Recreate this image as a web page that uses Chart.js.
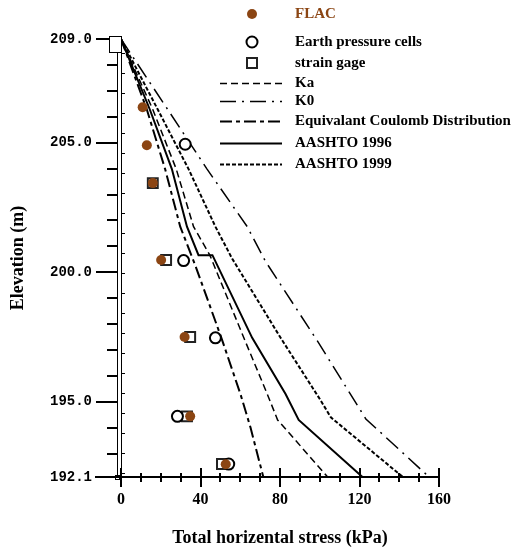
<!DOCTYPE html>
<html>
<head>
<meta charset="utf-8">
<script src="https://cdn.jsdelivr.net/npm/chart.js@4.4.1/dist/chart.umd.min.js"></script>
<style>
  html, body { margin: 0; padding: 0; background: #fff; }
  #wrap { width: 515px; height: 555px; }
</style>
</head>
<body>
<div id="wrap"><canvas id="wallChart" width="515" height="555"></canvas></div>
<script>
// measured values: stress (kPa) vs elevation (m)
const flacStress = [10.9, 13.0, 16.0, 20.2, 32.0, 34.8, 52.7];
const flacElev   = [206.37, 204.9, 203.44, 200.47, 197.5, 194.44, 192.59];
const cellStress = [32.3, 31.5, 47.5, 28.4, 54.2];
const cellElev   = [204.94, 200.45, 197.47, 194.44, 192.6];
const gageStress = [16.0, 22.7, 34.8, 33.2, 50.8];
const gageElev   = [203.44, 200.47, 197.5, 194.44, 192.6];

// design distributions
const kaStress = [0, 16.0, 27.8, 36.5, 44.7, 61.8, 73.6, 78.8, 104];
const kaElev   = [209, 206.28, 203.98, 201.76, 200.66, 197.47, 195.3, 194.3, 192.1];
const k0Stress = [0, 23.5, 43.3, 63.5, 72.7, 98.8, 123.2, 155];
const k0Elev   = [209, 206.28, 203.98, 201.76, 200.42, 197.35, 194.34, 192.1];
const coulombStress = [0, 13.0, 22.2, 29.8, 37.4, 50.5, 60.1, 65.2, 71.6];
const coulombElev   = [209, 206.28, 203.98, 201.76, 200.26, 197.47, 195.3, 194.0, 192.1];
const a96Stress = [0, 14.5, 25.6, 33.2, 39.0, 46.0, 66.0, 82.8, 89.4, 121.5];
const a96Elev   = [209, 206.28, 203.98, 201.76, 200.66, 200.66, 197.47, 195.3, 194.3, 192.1];
const a99Stress = [0, 18.5, 34.0, 47.5, 55.9, 80.3, 100.5, 105.6, 141.8];
const a99Elev   = [209, 206.28, 203.98, 201.76, 200.53, 197.47, 195.05, 194.4, 192.1];

const xTickLabels = [0, 40, 80, 120, 160];
const yTickLabels = [192.1, 195, 200, 205, 209];

const brown = '#8b4513';
const toPts = (xs, ys) => xs.map((v, i) => ({ x: v, y: ys[i] }));

function lineSet(label, xs, ys, dash, width) {
  return {
    label: label,
    data: toPts(xs, ys),
    showLine: true,
    borderColor: '#000',
    borderWidth: width,
    borderDash: dash,
    pointRadius: 0,
    fill: false,
    tension: 0
  };
}

const datasets = [
  { label: 'FLAC', data: toPts(flacStress, flacElev), pointStyle: 'circle', pointRadius: 5,
    backgroundColor: brown, borderColor: brown, borderWidth: 0, textColor: brown },
  { label: 'Earth pressure cells', data: toPts(cellStress, cellElev), pointStyle: 'circle', pointRadius: 5.5,
    backgroundColor: '#fff', borderColor: '#000', borderWidth: 2 },
  { label: 'strain gage', data: toPts(gageStress, gageElev), pointStyle: 'rect', pointRadius: 7,
    backgroundColor: '#fff', borderColor: '#222', borderWidth: 2 },
  lineSet('Ka', kaStress, kaElev, [7, 4], 1.5),
  lineSet('K0', k0Stress, k0Elev, [16, 6, 2, 6], 1.5),
  lineSet('Equivalant Coulomb Distribution', coulombStress, coulombElev, [12, 4, 4, 4], 2),
  lineSet('AASHTO 1996', a96Stress, a96Elev, [], 2),
  lineSet('AASHTO 1999', a99Stress, a99Elev, [4, 2], 2)
];

// wall, axis ticks and the legend are drawn by hand
const decorPlugin = {
  id: 'decor',
  beforeDatasetsDraw(chart) {
    const { ctx, scales: { x, y } } = chart;
    const x0 = x.getPixelForValue(0);
    const top = y.getPixelForValue(209);
    const bot = y.getPixelForValue(192.1);
    ctx.save();
    ctx.strokeStyle = '#000';
    ctx.lineWidth = 1;
    // wall face ticks on the inside
    for (let py = top + 14; py < bot; py += 20) {
      ctx.beginPath();
      ctx.moveTo(x0 + 0.5, Math.round(py) + 0.5);
      ctx.lineTo(x0 + 4, Math.round(py) + 0.5);
      ctx.stroke();
    }
    ctx.restore();
  },
  afterDraw(chart) {
    const { ctx, scales: { x, y } } = chart;
    const x0 = Math.round(x.getPixelForValue(0));
    const top = Math.round(y.getPixelForValue(209));
    const bot = Math.round(y.getPixelForValue(192.1));
    ctx.save();
    ctx.strokeStyle = '#000';
    ctx.lineCap = 'butt';

    // y ticks (outside the wall)
    ctx.lineWidth = 2;
    y.ticks.forEach(t => {
      const py = Math.round(y.getPixelForValue(t.value));
      const major = yTickLabels.includes(t.value);
      ctx.beginPath();
      ctx.moveTo(major ? x0 - 25 : x0 - 14, py);
      ctx.lineTo(x0 - 4, py);
      ctx.stroke();
    });

    // wall stem + cap
    ctx.lineWidth = 1;
    ctx.fillStyle = '#fff';
    ctx.fillRect(x0 - 11.5, top - 2.5, 12, 16);
    ctx.strokeRect(x0 - 11.5, top - 2.5, 12, 16);
    ctx.beginPath();
    ctx.moveTo(x0 - 3.5, top + 13.5); ctx.lineTo(x0 - 3.5, bot);
    ctx.moveTo(x0 + 0.5, top + 13.5); ctx.lineTo(x0 + 0.5, bot);
    ctx.stroke();
    ctx.strokeRect(x0 - 5.5, bot - 1.5, 4, 4);

    // x axis line and ticks
    const xEnd = x.getPixelForValue(160);
    ctx.lineWidth = 2;
    ctx.beginPath();
    ctx.moveTo(x0 - 26, bot);
    ctx.lineTo(xEnd + 1, bot);
    ctx.stroke();
    x.ticks.forEach(t => {
      const px = Math.round(x.getPixelForValue(t.value));
      const major = xTickLabels.includes(t.value);
      ctx.beginPath();
      ctx.moveTo(px, major ? bot - 9 : bot - 4);
      ctx.lineTo(px, major ? bot + 10 : bot + 5);
      ctx.stroke();
    });

    // legend
    const lx1 = 220, lx2 = 282, tx = 295;
    const rows = [14, 42, 63, 83, 101, 121, 143, 164];
    ctx.font = 'bold 15px "Liberation Serif", serif';
    ctx.textBaseline = 'middle';
    ctx.textAlign = 'left';
    chart.data.datasets.forEach((ds, i) => {
      const ry = rows[i];
      if (ds.showLine) {
        ctx.save();
        ctx.strokeStyle = ds.borderColor;
        ctx.lineWidth = ds.borderWidth;
        ctx.setLineDash(ds.borderDash);
        ctx.beginPath();
        ctx.moveTo(lx1, ry + 0.5);
        ctx.lineTo(lx2, ry + 0.5);
        ctx.stroke();
        ctx.restore();
      } else {
        ctx.save();
        ctx.fillStyle = ds.backgroundColor;
        ctx.strokeStyle = ds.borderColor;
        ctx.lineWidth = ds.borderWidth;
        ctx.beginPath();
        if (ds.pointStyle === 'rect') {
          ctx.rect(247, ry - 5, 10, 10);
        } else {
          ctx.arc(252, ry, ds.pointRadius, 0, Math.PI * 2);
        }
        ctx.fill();
        if (ds.borderWidth) ctx.stroke();
        ctx.restore();
      }
      ctx.fillStyle = ds.textColor || '#000';
      ctx.fillText(ds.label, tx, ry);
    });
    ctx.restore();
  }
};

const ctx = document.getElementById('wallChart').getContext('2d');
const chart = new Chart(ctx, {
  type: 'scatter',
  data: { datasets: datasets },
  options: {
    responsive: false,
    animation: false,
    events: [],
    layout: { padding: { left: 0, right: 76, top: 39, bottom: 0 } },
    plugins: { legend: { display: false }, tooltip: { enabled: false } },
    scales: {
      x: {
        type: 'linear',
        min: 0,
        max: 160,
        grid: { display: false, drawTicks: false },
        border: { display: false },
        afterBuildTicks: axis => {
          const t = [];
          for (let v = 0; v <= 160; v += 10) t.push({ value: v });
          axis.ticks = t;
        },
        afterFit: axis => { axis.height = 78; axis.paddingLeft = 0; axis.paddingRight = 0; },
        ticks: {
          autoSkip: false,
          maxRotation: 0,
          padding: 13,
          color: '#000',
          font: { family: '"Liberation Serif", serif', size: 16, weight: 'bold' },
          callback: v => xTickLabels.includes(v) ? String(v) : ''
        },
        title: {
          display: true,
          text: 'Total horizental stress (kPa)',
          color: '#000',
          padding: { top: 0, bottom: 6 },
          font: { family: '"Liberation Serif", serif', size: 18, weight: 'bold' }
        }
      },
      y: {
        type: 'linear',
        min: 192.1,
        max: 209,
        grid: { display: false, drawTicks: false },
        border: { display: false },
        afterBuildTicks: axis => {
          const t = [{ value: 192.1 }];
          for (let v = 193; v <= 209; v++) t.push({ value: v });
          axis.ticks = t;
        },
        afterFit: axis => { axis.width = 121; axis.paddingTop = 0; axis.paddingBottom = 0; },
        ticks: {
          autoSkip: false,
          padding: 29,
          color: '#000',
          font: { family: '"Liberation Mono", monospace', size: 14, weight: 'bold' },
          callback: v => yTickLabels.includes(v) ? v.toFixed(1) : ''
        },
        title: {
          display: true,
          text: 'Elevation (m)',
          color: '#000',
          padding: { top: 8, bottom: 0 },
          font: { family: '"Liberation Serif", serif', size: 18, weight: 'bold' }
        }
      }
    }
  },
  plugins: [decorPlugin]
});
</script>
</body>
</html>
